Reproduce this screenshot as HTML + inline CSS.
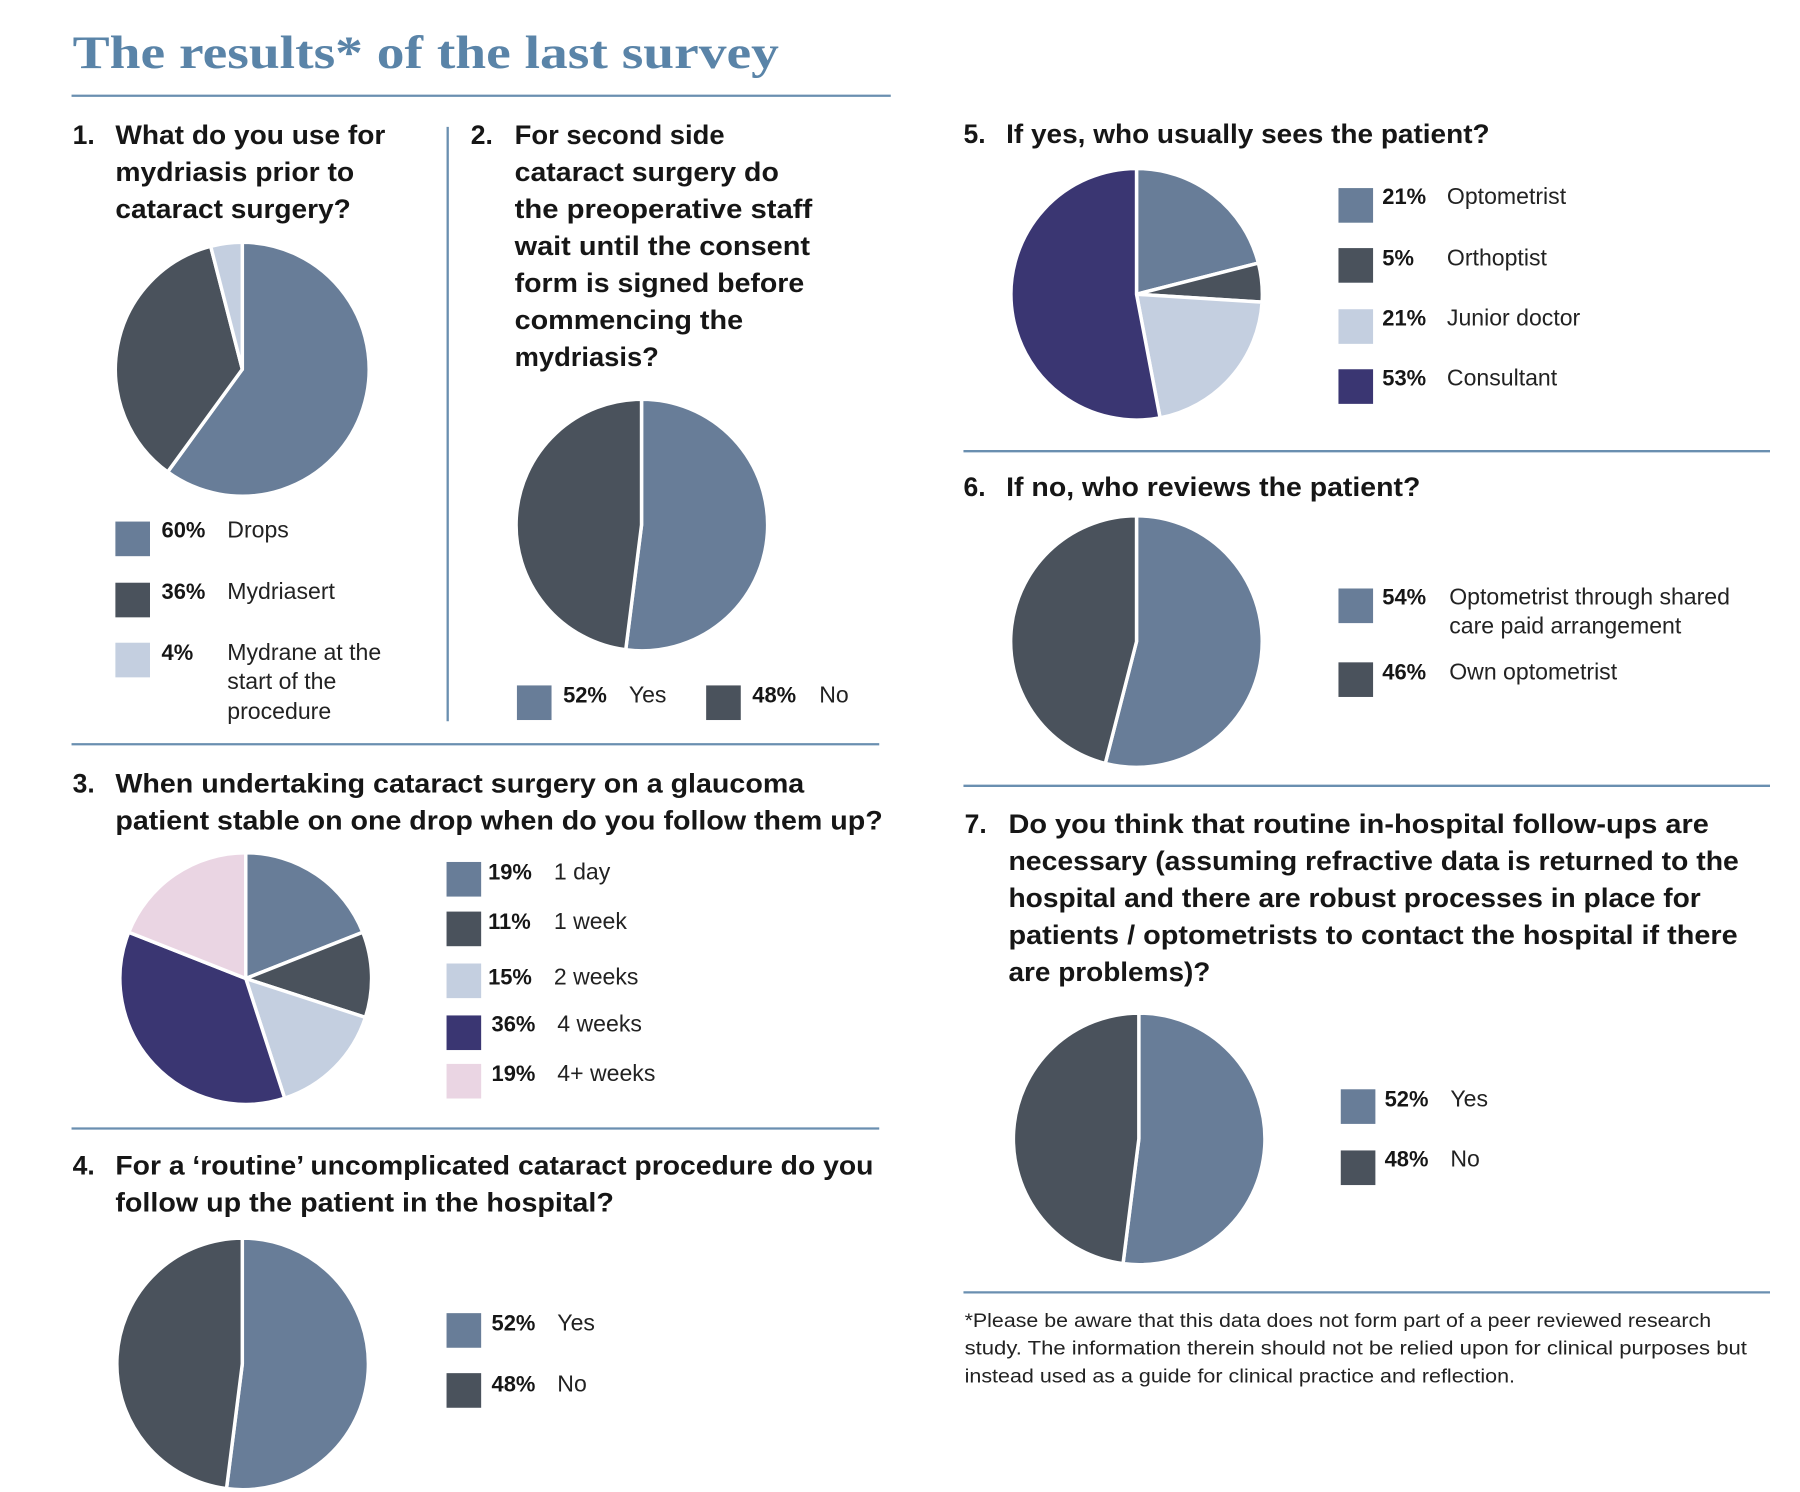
<!DOCTYPE html>
<html><head><meta charset="utf-8"><style>
html,body{margin:0;padding:0;background:#fff;width:1800px;height:1492px;overflow:hidden}
svg{display:block}
.q{font-family:"Liberation Sans",sans-serif;font-weight:bold;font-size:23px;fill:#161616}
.p{font-family:"Liberation Sans",sans-serif;font-weight:bold;font-size:19px;fill:#161616}
.l{font-family:"Liberation Sans",sans-serif;font-size:20px;fill:#222}
.f{font-family:"Liberation Sans",sans-serif;font-size:17px;fill:#222}
.s{stroke:#fff;stroke-width:3;stroke-linejoin:round}
</style></head><body>
<svg width="1800" height="1492" viewBox="0 0 1560 1293" preserveAspectRatio="none">
<text x="63" y="59" font-family="Liberation Serif,serif" font-weight="bold" font-size="40" fill="#5a84a8" textLength="612" lengthAdjust="spacingAndGlyphs">The results* of the last survey</text>
<g stroke="#6a8fb0" stroke-width="2">
<line x1="62" y1="83" x2="772" y2="83"/>
<line x1="388" y1="110" x2="388" y2="625"/>
<line x1="62" y1="645" x2="762" y2="645"/>
<line x1="62" y1="978" x2="762" y2="978"/>
<line x1="835" y1="391" x2="1534" y2="391"/>
<line x1="835" y1="681" x2="1534" y2="681"/>
<line x1="835" y1="1120" x2="1534" y2="1120"/>
</g>
<!-- Q1 -->
<text class="q" x="63" y="125">1.</text>
<text class="q" x="100" y="125" textLength="234" lengthAdjust="spacingAndGlyphs">What do you use for</text>
<text class="q" x="100" y="157" textLength="207" lengthAdjust="spacingAndGlyphs">mydriasis prior to</text>
<text class="q" x="100" y="189" textLength="204" lengthAdjust="spacingAndGlyphs">cataract surgery?</text>
<g class="s">
<path d="M210,320 L210,210 A110,110 0 1 1 145.3,409 Z" fill="#687d98"/>
<path d="M210,320 L145.3,409 A110,110 0 0 1 182.6,213.5 Z" fill="#4a525c"/>
<path d="M210,320 L182.6,213.5 A110,110 0 0 1 210,210 Z" fill="#c4cfe0"/>
</g>
<rect x="100" y="452" width="30" height="30" fill="#687d98"/>
<rect x="100" y="505" width="30" height="30" fill="#4a525c"/>
<rect x="100" y="557" width="30" height="30" fill="#c4cfe0"/>
<text class="p" x="140" y="466">60%</text><text class="l" x="197" y="466">Drops</text>
<text class="p" x="140" y="519">36%</text><text class="l" x="197" y="519">Mydriasert</text>
<text class="p" x="140" y="572">4%</text><text class="l" x="197" y="572">Mydrane at the</text>
<text class="l" x="197" y="597">start of the</text><text class="l" x="197" y="623">procedure</text>
<!-- Q2 -->
<text class="q" x="408" y="125">2.</text>
<text class="q" x="446" y="125" textLength="182" lengthAdjust="spacingAndGlyphs">For second side</text>
<text class="q" x="446" y="157" textLength="229" lengthAdjust="spacingAndGlyphs">cataract surgery do</text>
<text class="q" x="446" y="189" textLength="258" lengthAdjust="spacingAndGlyphs">the preoperative staff</text>
<text class="q" x="446" y="221" textLength="256" lengthAdjust="spacingAndGlyphs">wait until the consent</text>
<text class="q" x="446" y="253" textLength="251" lengthAdjust="spacingAndGlyphs">form is signed before</text>
<text class="q" x="446" y="285" textLength="198" lengthAdjust="spacingAndGlyphs">commencing the</text>
<text class="q" x="446" y="317" textLength="125" lengthAdjust="spacingAndGlyphs">mydriasis?</text>
<g class="s">
<path d="M556,455 L556,346 A109,109 0 1 1 542.3,563.1 Z" fill="#687d98"/>
<path d="M556,455 L542.3,563.1 A109,109 0 0 1 556,346 Z" fill="#4a525c"/>
</g>
<rect x="448" y="594" width="30" height="30" fill="#687d98"/>
<rect x="612" y="594" width="30" height="30" fill="#4a525c"/>
<text class="p" x="488" y="609">52%</text><text class="l" x="545" y="609">Yes</text>
<text class="p" x="652" y="609">48%</text><text class="l" x="710" y="609">No</text>
<!-- Q3 -->
<text class="q" x="63" y="687">3.</text>
<text class="q" x="100" y="687" textLength="597" lengthAdjust="spacingAndGlyphs">When undertaking cataract surgery on a glaucoma</text>
<text class="q" x="100" y="719" textLength="665" lengthAdjust="spacingAndGlyphs">patient stable on one drop when do you follow them up?</text>
<g class="s">
<path d="M213,848 L213,739 A109,109 0 0 1 314.4,807.9 Z" fill="#687d98"/>
<path d="M213,848 L314.4,807.9 A109,109 0 0 1 316.7,881.7 Z" fill="#4a525c"/>
<path d="M213,848 L316.7,881.7 A109,109 0 0 1 246.7,951.7 Z" fill="#c4cfe0"/>
<path d="M213,848 L246.7,951.7 A109,109 0 0 1 111.6,807.9 Z" fill="#3a3672"/>
<path d="M213,848 L111.6,807.9 A109,109 0 0 1 213,739 Z" fill="#ead5e3"/>
</g>
<rect x="387" y="747" width="30" height="30" fill="#687d98"/>
<rect x="387" y="790" width="30" height="30" fill="#4a525c"/>
<rect x="387" y="835" width="30" height="30" fill="#c4cfe0"/>
<rect x="387" y="880" width="30" height="30" fill="#3a3672"/>
<rect x="387" y="922" width="30" height="30" fill="#ead5e3"/>
<text class="p" x="423" y="762">19%</text><text class="l" x="480" y="762">1 day</text>
<text class="p" x="423" y="805">11%</text><text class="l" x="480" y="805">1 week</text>
<text class="p" x="423" y="853">15%</text><text class="l" x="480" y="853">2 weeks</text>
<text class="p" x="426" y="894">36%</text><text class="l" x="483" y="894">4 weeks</text>
<text class="p" x="426" y="937">19%</text><text class="l" x="483" y="937">4+ weeks</text>
<!-- Q4 -->
<text class="q" x="63" y="1018">4.</text>
<text class="q" x="100" y="1018" textLength="657" lengthAdjust="spacingAndGlyphs">For a ‘routine’ uncomplicated cataract procedure do you</text>
<text class="q" x="100" y="1050" textLength="432" lengthAdjust="spacingAndGlyphs">follow up the patient in the hospital?</text>
<g class="s">
<path d="M210,1182 L210,1073 A109,109 0 1 1 196.3,1290.1 Z" fill="#687d98"/>
<path d="M210,1182 L196.3,1290.1 A109,109 0 0 1 210,1073 Z" fill="#4a525c"/>
</g>
<rect x="387" y="1138" width="30" height="30" fill="#687d98"/>
<rect x="387" y="1190" width="30" height="30" fill="#4a525c"/>
<text class="p" x="426" y="1153">52%</text><text class="l" x="483" y="1153">Yes</text>
<text class="p" x="426" y="1206">48%</text><text class="l" x="483" y="1206">No</text>
<!-- Q5 -->
<text class="q" x="835" y="124">5.</text>
<text class="q" x="872" y="124" textLength="419" lengthAdjust="spacingAndGlyphs">If yes, who usually sees the patient?</text>
<g class="s">
<path d="M985,255 L985,146 A109,109 0 0 1 1090.6,228 Z" fill="#687d98"/>
<path d="M985,255 L1090.6,228 A109,109 0 0 1 1093.8,261.8 Z" fill="#4a525c"/>
<path d="M985,255 L1093.8,261.8 A109,109 0 0 1 1005.4,362.1 Z" fill="#c4cfe0"/>
<path d="M985,255 L1005.4,362.1 A109,109 0 1 1 985,146 Z" fill="#3a3672"/>
</g>
<rect x="1160" y="163" width="30" height="30" fill="#687d98"/>
<rect x="1160" y="215" width="30" height="30" fill="#4a525c"/>
<rect x="1160" y="268" width="30" height="30" fill="#c4cfe0"/>
<rect x="1160" y="320" width="30" height="30" fill="#3a3672"/>
<text class="p" x="1198" y="177">21%</text><text class="l" x="1254" y="177">Optometrist</text>
<text class="p" x="1198" y="230">5%</text><text class="l" x="1254" y="230">Orthoptist</text>
<text class="p" x="1198" y="282">21%</text><text class="l" x="1254" y="282">Junior doctor</text>
<text class="p" x="1198" y="334">53%</text><text class="l" x="1254" y="334">Consultant</text>
<!-- Q6 -->
<text class="q" x="835" y="430">6.</text>
<text class="q" x="872" y="430" textLength="359" lengthAdjust="spacingAndGlyphs">If no, who reviews the patient?</text>
<g class="s">
<path d="M985,556 L985,447 A109,109 0 1 1 957.9,661.6 Z" fill="#687d98"/>
<path d="M985,556 L957.9,661.6 A109,109 0 0 1 985,447 Z" fill="#4a525c"/>
</g>
<rect x="1160" y="510" width="30" height="30" fill="#687d98"/>
<rect x="1160" y="574" width="30" height="30" fill="#4a525c"/>
<text class="p" x="1198" y="524">54%</text><text class="l" x="1256" y="524">Optometrist through shared</text>
<text class="l" x="1256" y="549">care paid arrangement</text>
<text class="p" x="1198" y="589">46%</text><text class="l" x="1256" y="589">Own optometrist</text>
<!-- Q7 -->
<text class="q" x="836" y="722">7.</text>
<text class="q" x="874" y="722" textLength="607" lengthAdjust="spacingAndGlyphs">Do you think that routine in-hospital follow-ups are</text>
<text class="q" x="874" y="754" textLength="633" lengthAdjust="spacingAndGlyphs">necessary (assuming refractive data is returned to the</text>
<text class="q" x="874" y="786" textLength="600" lengthAdjust="spacingAndGlyphs">hospital and there are robust processes in place for</text>
<text class="q" x="874" y="818" textLength="632" lengthAdjust="spacingAndGlyphs">patients / optometrists to contact the hospital if there</text>
<text class="q" x="874" y="850" textLength="175" lengthAdjust="spacingAndGlyphs">are problems)?</text>
<g class="s">
<path d="M987,987 L987,878 A109,109 0 1 1 973.3,1095.1 Z" fill="#687d98"/>
<path d="M987,987 L973.3,1095.1 A109,109 0 0 1 987,878 Z" fill="#4a525c"/>
</g>
<rect x="1162" y="944" width="30" height="30" fill="#687d98"/>
<rect x="1162" y="997" width="30" height="30" fill="#4a525c"/>
<text class="p" x="1200" y="959">52%</text><text class="l" x="1257" y="959">Yes</text>
<text class="p" x="1200" y="1011">48%</text><text class="l" x="1257" y="1011">No</text>
<!-- footnote -->
<text class="f" x="836" y="1150" textLength="647" lengthAdjust="spacingAndGlyphs">*Please be aware that this data does not form part of a peer reviewed research</text>
<text class="f" x="836" y="1174" textLength="678" lengthAdjust="spacingAndGlyphs">study.  The information therein should not be relied upon for clinical purposes but</text>
<text class="f" x="836" y="1198" textLength="477" lengthAdjust="spacingAndGlyphs">instead used as a guide for clinical practice and reflection.</text>
</svg>
</body></html>
